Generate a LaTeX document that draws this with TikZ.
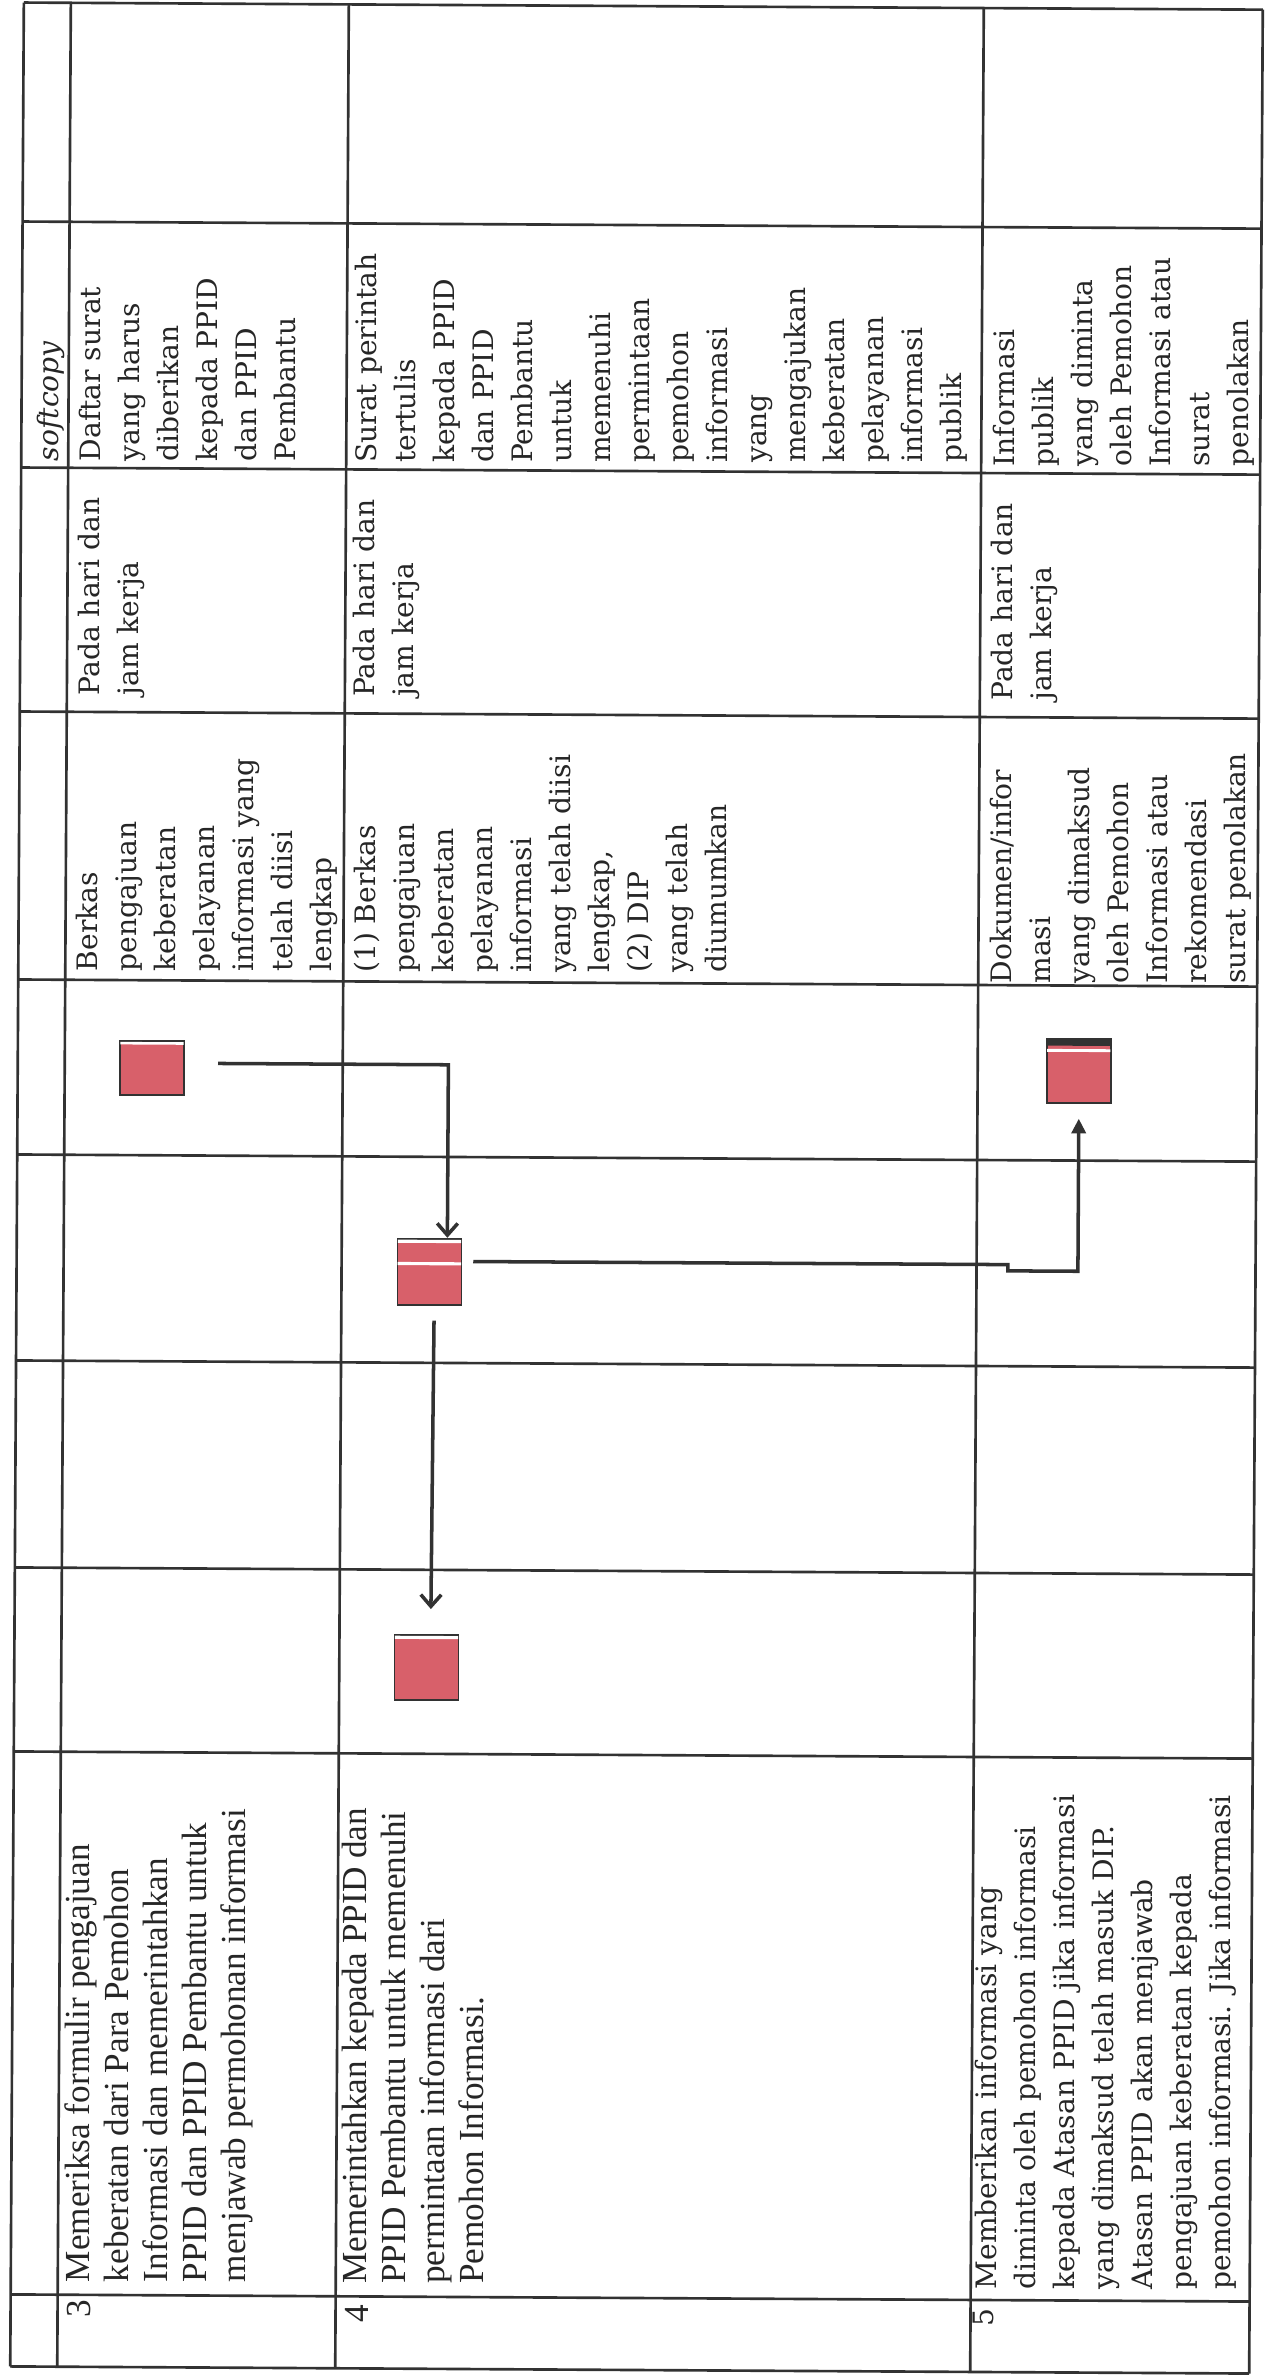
\documentclass[tikz,border=0pt]{standalone}
\usepackage{fontspec}
\setmainfont{Liberation Serif}
\newfontfamily\bookfont{DejaVu Serif}
\usetikzlibrary{arrows.meta}
\definecolor{boxred}{RGB}{216,96,106}
\definecolor{ink}{RGB}{50,50,50}
\begin{document}
\begin{tikzpicture}
  [x=0.341pt,y=0.341pt,
   tabline/.style={line width=0.9pt,draw=ink},
   celltext/.style={rotate=90,anchor=north west,align=left,inner sep=0pt,text=black!85},
   bk/.style={celltext,font=\bookfont\fontsize{9.6}{13.3}\selectfont},
   tm/.style={celltext,font=\fontsize{12}{13.3}\selectfont},
   task/.style={draw=ink,line width=0.6pt,fill=boxred,inner sep=0pt,
     minimum width=21.8pt,minimum height=#1},
   task/.default=21.8pt,
   flow/.style={line width=1.2pt,draw=ink,-{Straight Barb[length=4pt,width=7pt]}}]
  \fill[white] (0,0) rectangle (1265,-2375);
  \useasboundingbox (0,0) rectangle (1265,-2375);
  \begin{scope}[rotate around={-0.33:(632,-1190)}]
  \foreach \y in {6,225,471,715,983,1158,1364,1571,1755,2298,2370}
    \draw[tabline] (17,-\y) -- (1256,-\y);
  \foreach \x in {17,64,342,977,1256}
    \draw[tabline] (\x,-6) -- (\x,-2370);

  \node[bk] (o2) at (32,-465) {\itshape softcopy};

  \node[bk] (o3) at (74.5,-465) {Daftar surat\\yang harus\\diberikan\\kepada PPID\\dan PPID\\Pembantu};
  \node[bk] (t3) at (74.5,-699) {Pada hari dan\\jam kerja};
  \node[bk] (r3) at (74.5,-975) {Berkas\\pengajuan\\keberatan\\pelayanan\\informasi yang\\telah diisi\\lengkap};
  \node[tm] (d3) at (70,-2286) {Memeriksa formulir pengajuan\\keberatan dari Para Pemohon\\Informasi dan memerintahkan\\PPID dan PPID Pembantu untuk\\menjawab permohonan informasi};
  \node[tm] (n3) at (73,-2321) {3};

  \node[bk] (o4) at (350,-465) {Surat perintah\\tertulis\\kepada PPID\\dan PPID\\Pembantu\\untuk\\memenuhi\\permintaan\\pemohon\\informasi\\yang\\mengajukan\\keberatan\\pelayanan\\informasi\\publik};
  \node[bk] (t4) at (350,-699) {Pada hari dan\\jam kerja};
  \node[bk] (r4) at (352,-975) {(1) Berkas\\pengajuan\\keberatan\\pelayanan\\informasi\\yang telah diisi\\lengkap,\\(2) DIP\\yang telah\\diumumkan};
  \node[tm] (d4) at (348,-2286) {Memerintahkan kepada PPID dan\\PPID Pembantu untuk memenuhi\\permintaan informasi dari\\Pemohon Informasi.};
  \node[tm] (n4) at (351,-2325) {4};

  \node[bk] (o5) at (988,-465) {Informasi\\publik\\yang diminta\\oleh Pemohon\\Informasi atau\\surat\\penolakan};
  \node[bk] (t5) at (988,-699) {Pada hari dan\\jam kerja};
  \node[bk] (r5) at (988,-982) {Dokumen/infor\\masi\\yang dimaksud\\oleh Pemohon\\Informasi atau\\rekomendasi\\surat penolakan};
  \node[bk] (d5) at (981,-2288) {Memberikan informasi yang\\diminta oleh pemohon informasi\\kepada Atasan PPID jika informasi\\yang dimaksud telah masuk DIP.\\Atasan PPID akan menjawab\\pengajuan keberatan kepada\\pemohon informasi. Jika informasi};
  \node[bk] (n5) at (979,-2325) {5};

  \node[task=18.4pt] (s3) at (151.3,-1070.8) {};
  \node[task=22.5pt] (s4) at (430,-1273) {};
  \node[task=22.2pt] (s4b) at (429.3,-1668.7) {};
  \node[task] (s5) at (1078.3,-1068.4) {};
  \fill[white] ([xshift=0.4pt,yshift=-0.6pt]s3.north west) rectangle ([xshift=-0.4pt,yshift=-1.6pt]s3.north east);
  \fill[white] ([xshift=0.4pt,yshift=-0.6pt]s4.north west) rectangle ([xshift=-0.4pt,yshift=-1.8pt]s4.north east);
  \fill[white] ([xshift=0.4pt,yshift=-8.2pt]s4.north west) rectangle ([xshift=-0.4pt,yshift=-9.4pt]s4.north east);
  \fill[white] ([xshift=0.4pt,yshift=-0.6pt]s4b.north west) rectangle ([xshift=-0.4pt,yshift=-1.8pt]s4b.north east);
  \fill[ink] (s5.north west) rectangle ([yshift=-2.7pt]s5.north east);
  \fill[white] ([xshift=0.4pt,yshift=-3.7pt]s5.north west) rectangle ([xshift=-0.4pt,yshift=-4.8pt]s5.north east);

  \coordinate (j1) at (1008.5,-1268.8);
  \draw[flow,shorten <=11.3pt] ([yshift=1.6pt]s3.east) -| ([xshift=-5.1pt]s4.north east);
  \draw[flow,-{Triangle[length=5pt,width=4.8pt]},shorten <=3.7pt,shorten >=5.1pt]
    ([yshift=3.5pt]s4.east) -| (j1) -| (s5.south);
  \draw[flow,shorten <=5.1pt,shorten >=8.5pt] ([xshift=1.6pt]s4.south) -- ([xshift=1.4pt]s4b.north);
  \end{scope}
\end{tikzpicture}
\end{document}
